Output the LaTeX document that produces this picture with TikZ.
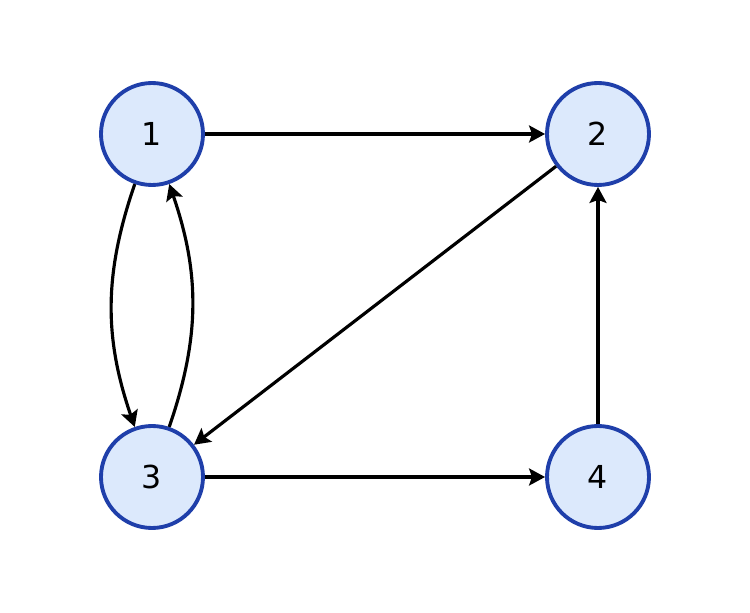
\documentclass[tikz,border=0pt]{standalone}
\usepackage{fontspec}
\setmainfont{DejaVu Sans}
\usetikzlibrary{arrows.meta}
\definecolor{nodefill}{HTML}{DCE9FC}
\definecolor{nodedraw}{HTML}{1F3FAA}
\begin{document}
\begin{tikzpicture}

\tikzset{vertex/.style = {shape=circle,draw=nodedraw,fill=nodefill,line width=2.2pt,minimum size=2.04cm,inner sep=0pt,font=\fontsize{18}{21}\selectfont}}
\tikzset{edge/.style = {->,> = {Stealth[length=3.2mm,width=3.4mm,inset=0.6mm]},line width=1.8pt}}
\useasboundingbox (0,0) rectangle (15,12.26);
%verticies
\node[vertex] (1) at  (3.04,9.58) {1};
\node[vertex] (2) at  (11.96,9.58) {2};
\node[vertex] (3) at  (3.04,2.72) {3};
\node[vertex] (4) at  (11.96,2.72) {4};
%edges
\draw [edge] (1) -- (2);
\draw [edge] (2) -- (3);
\draw [edge] (3) -- (4);
\draw [edge] (4) -- (2);
\draw [edge] (1) to[bend right=19] (3);
\draw [edge] (3) to[bend right=19] (1);

\end{tikzpicture}
\end{document}
